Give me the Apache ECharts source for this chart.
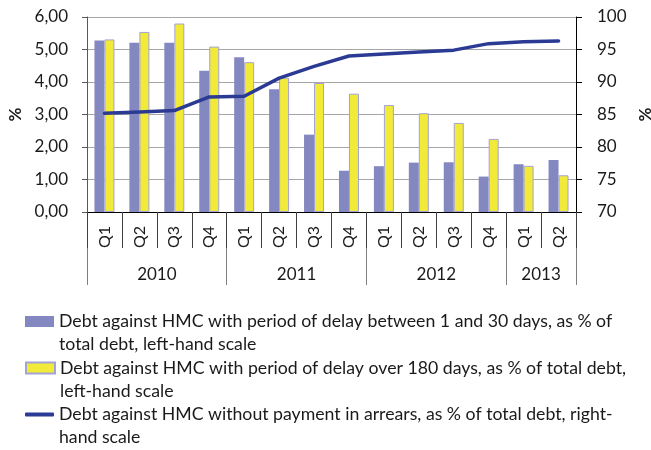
<!DOCTYPE html>
<html>
<head>
<meta charset="utf-8">
<script src="https://cdn.jsdelivr.net/npm/echarts@6/dist/echarts.min.js"></script>
<style>
  html, body { margin: 0; padding: 0; background: #fff; }
  #chart { width: 651px; height: 450px; }
</style>
</head>
<body>
<div id="chart"></div>
<script>
// data
const years = ['2010', '2011', '2012', '2013'];
const quarters = ['Q1', 'Q2', 'Q3', 'Q4', 'Q1', 'Q2', 'Q3', 'Q4', 'Q1', 'Q2', 'Q3', 'Q4', 'Q1', 'Q2'];
const quarterYear = [0, 0, 0, 0, 1, 1, 1, 1, 2, 2, 2, 2, 3, 3];
const delay1to30 = [5.28, 5.21, 5.21, 4.35, 4.76, 3.78, 2.38, 1.27, 1.41, 1.52, 1.53, 1.09, 1.47, 1.60];
const delayOver180 = [5.31, 5.54, 5.80, 5.09, 4.61, 4.13, 3.97, 3.64, 3.29, 3.04, 2.74, 2.25, 1.42, 1.13];
const noArrears = [85.2, 85.4, 85.6, 87.7, 87.8, 90.6, 92.4, 94.0, 94.3, 94.6, 94.9, 95.9, 96.2, 96.3];
// year boundaries / centres on the year axis, in category units
const yearBounds = [0, 4, 8, 12, 14];
const yearCentres = [2, 6, 10, 13];

const names = [
  'Debt against HMC with period of delay between 1 and 30 days, as % of\ntotal debt, left-hand scale',
  'Debt against HMC with period of delay over 180 days, as % of total debt,\nleft-hand scale',
  'Debt against HMC without payment in arrears, as % of total debt, right-\nhand scale'
];

const FONT = 'Lato';
const categories = quarters.map((q, i) => years[quarterYear[i]] + ' ' + q);

const chart = echarts.init(document.getElementById('chart'), null, { renderer: 'canvas' });

// one legend per entry so the icon sits on the first text line
const legendIcons = [
  { icon: 'rect', h: 11 },
  { icon: 'rect', h: 11 },
  { icon: 'roundRect', h: 4 }
];

const option = {
  animation: false,
  textStyle: { fontFamily: FONT, color: '#1a1a1a' },
  grid: { left: 87, right: 75, top: 17, bottom: 238, containLabel: false, outerBoundsMode: 'none' },
  legend: names.map((n, i) => ({
    data: [{ name: n, icon: legendIcons[i].icon }],
    left: 25,
    top: 321.5 + i * 46.5 - 34.5,
    padding: 0,
    itemWidth: 29,
    itemHeight: legendIcons[i].h,
    selectedMode: false,
    // a blank first line centres the block on the first real line
    formatter: name => '\u00a0\n' + name,
    textStyle: { fontFamily: FONT, fontSize: 17.7, color: '#1a1a1a', lineHeight: 23 }
  })),
  xAxis: [
    {
      type: 'category',
      data: categories,
      position: 'bottom',
      axisLine: { lineStyle: { color: '#000', width: 1 } },
      axisTick: { show: true, interval: 0, length: 36, lineStyle: { color: '#404040' } },
      axisLabel: {
        interval: 0, rotate: 90, margin: 14, fontSize: 16, color: '#1a1a1a',
        formatter: v => v.split(' ')[1]
      },
      splitLine: { show: false }
    },
    {
      type: 'value',
      min: 0,
      max: 14,
      position: 'bottom',
      offset: 36,
      axisLine: { show: false },
      axisTick: { show: true, customValues: yearBounds, length: 37, lineStyle: { color: '#7f7f7f' } },
      axisLabel: {
        customValues: yearCentres, margin: 18, fontSize: 17, color: '#1a1a1a',
        formatter: v => years[yearCentres.indexOf(v)]
      },
      splitLine: { show: false }
    }
  ],
  yAxis: [
    {
      type: 'value',
      min: 0, max: 6, interval: 1,
      name: '%', nameLocation: 'middle', nameRotate: 90, nameGap: 58,
      nameTextStyle: { fontSize: 17, fontWeight: 'bold', color: '#1a1a1a' },
      axisLine: { show: true, lineStyle: { color: '#595959' } },
      axisTick: { show: true, length: 5, lineStyle: { color: '#595959' } },
      axisLabel: { margin: 19, fontSize: 17, color: '#1a1a1a', formatter: v => v.toFixed(2).replace('.', ',') },
      splitLine: { show: true, lineStyle: { color: '#a6a6a6', width: 1 } }
    },
    {
      type: 'value',
      min: 70, max: 100, interval: 5,
      position: 'right',
      name: '%', nameLocation: 'middle', nameRotate: 90, nameGap: 32,
      nameTextStyle: { fontSize: 17, fontWeight: 'bold', color: '#1a1a1a' },
      axisLine: { show: true, lineStyle: { color: '#000' } },
      axisTick: { show: true, length: 6, lineStyle: { color: '#000' } },
      axisLabel: { margin: 21, fontSize: 17, color: '#1a1a1a' },
      splitLine: { show: false }
    }
  ],
  series: [
    {
      name: names[0],
      type: 'bar',
      data: delay1to30,
      barWidth: 10,
      barGap: '0%',
      itemStyle: { color: '#8488c0' }
    },
    {
      name: names[1],
      type: 'bar',
      data: delayOver180,
      barWidth: 10,
      itemStyle: { color: '#f2ea38', borderColor: '#a3a3d6', borderWidth: 1 }
    },
    {
      name: names[2],
      type: 'line',
      yAxisIndex: 1,
      data: noArrears,
      symbol: 'none',
      lineStyle: { color: '#2b3a93', width: 3.5, cap: 'round', join: 'round' },
      itemStyle: { color: '#2b3a93' }
    }
  ]
};

chart.setOption(option);
</script>
</body>
</html>
